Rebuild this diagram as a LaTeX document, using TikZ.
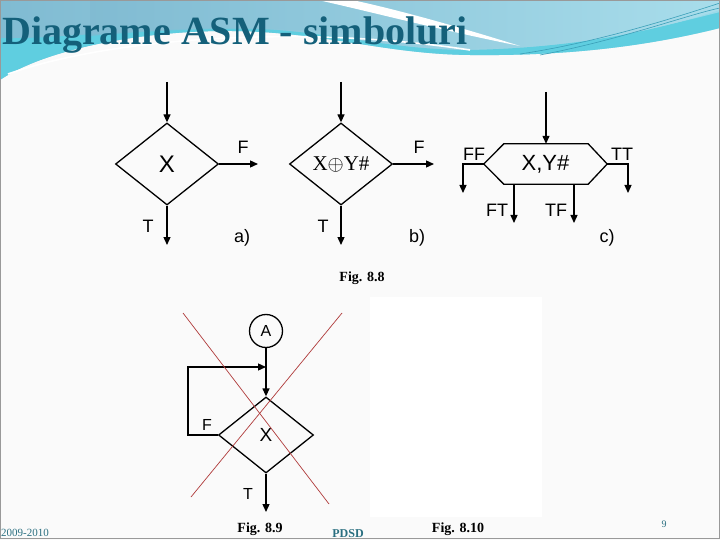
\documentclass[tikz,border=0pt]{standalone}
\usepackage{fontspec}
\setmainfont{Liberation Serif}
\newfontfamily\arialfont{Liberation Sans}
\usetikzlibrary{arrows.meta,shapes.geometric,calc}
\definecolor{SlideBack}{HTML}{FAFAFA}
\definecolor{BandSteel}{HTML}{80BBD2}
\definecolor{BandSky}{HTML}{A8DDEB}
\definecolor{BandCyan}{HTML}{5FCEE0}
\definecolor{BandLine}{HTML}{3A9FB8}
\definecolor{TitleTeal}{HTML}{14607A}
\definecolor{FootTeal}{HTML}{2A6F80}
\definecolor{CrossRed}{HTML}{B03A3A}

\begin{document}
\begin{tikzpicture}[x=1pt,y=-1pt,
  flow/.style={-{Triangle[length=8pt,width=7pt]},line width=1.3pt},
  decbox/.style={diamond,draw,line width=1.3pt,inner sep=0pt,
        minimum width=103pt,minimum height=82pt,
        font=\arialfont\fontsize{24}{24}\selectfont},
  lbl/.style={anchor=base,inner sep=0pt,font=\arialfont\fontsize{18}{18}\selectfont},
  figcap/.style={anchor=base,inner sep=0pt,font=\bfseries\fontsize{14}{14}\selectfont},
  foot/.style={anchor=base,inner sep=0pt,text=FootTeal}]
  \useasboundingbox (0,0) rectangle (720,540);
  % slide background and header band
  \fill[SlideBack] (0,0) rectangle (720,540);
  \fill[white] (370,297) rectangle (542,517);
  \shade[left color=BandSteel,right color=BandSky]
    (0,0) -- (720,0) -- (720,28) .. controls (640,48) and (560,56) .. (470,55)
    .. controls (380,54) and (320,30) .. (220,31)
    .. controls (130,32) and (40,52) .. (0,80) -- cycle;
  \fill[BandCyan] (0,80) .. controls (40,52) and (130,32) .. (220,31)
    .. controls (320,30) and (380,54) .. (470,55)
    .. controls (560,56) and (640,48) .. (720,28) -- (720,10)
    .. controls (640,36) and (560,48) .. (470,50)
    .. controls (380,50) and (320,27) .. (220,28)
    .. controls (120,30) and (40,40) .. (0,38) -- cycle;
  \shade[left color=BandSteel,right color=BandSky,opacity=0.8]
    (90,36) .. controls (200,26) and (320,24) .. (470,48)
    .. controls (560,50) and (650,30) .. (720,12) -- (720,0) -- (90,0) -- cycle;
  \draw[white,line width=1.6pt] (8,74) .. controls (110,38) and (300,24) .. (470,50);
  \fill[white] (318,0) .. controls (380,14) and (440,30) .. (520,46)
    .. controls (450,24) and (390,8) .. (352,0) -- cycle;
  \draw[BandLine,line width=0.6pt] (520,54) .. controls (600,42) and (680,16) .. (720,3);
  \draw[BandLine,line width=0.6pt] (540,55) .. controls (620,40) and (690,14) .. (720,8);
  \draw[BandLine!80!black,line width=1.4pt] (0,0.7) -- (720,0.7);
  \draw[gray!80,line width=0.8pt] (0.4,0.4) rectangle (719.6,538.6);
  \node[anchor=base west,inner sep=0pt,text=TitleTeal,
        font=\bfseries\fontsize{40}{40}\selectfont] (title) at (2,45)
        {Diagrame ASM - simboluri};

  % a) decision box
  \node[decbox] (da) at (167,164) {X};
  \coordinate (ina) at (167,82);
  \coordinate (fa) at (258,164);
  \coordinate (ta) at (167,245);
  \draw[flow] (ina) -- (da.north);
  \draw[flow] (da.east) -- (fa);
  \draw[flow] (da.south) -- (ta);
  \node[lbl] (fla) at (243,154) {F};
  \node[lbl] (tla) at (148,233) {T};
  \node[lbl] (capa) at (242,243) {a)};

  % b) decision box with expression
  \node[decbox,font=\fontsize{21}{21}\selectfont] (db) at (341,164) {X$\oplus$Y\#};
  \coordinate (inb) at (341,82);
  \coordinate (fb) at (434,164);
  \coordinate (tb) at (341,245);
  \draw[flow] (inb) -- (db.north);
  \draw[flow] (db.east) -- (fb);
  \draw[flow] (db.south) -- (tb);
  \node[lbl] (flb) at (419,154) {F};
  \node[lbl] (tlb) at (323,233) {T};
  \node[lbl] (capb) at (417,243) {b)};

  % c) multiway decision box
  \node[minimum width=123pt,minimum height=40pt,inner sep=0pt,
        font=\arialfont\fontsize{22}{22}\selectfont] (xy) at (545.5,164) {X,Y\#};
  \draw[line width=1.3pt] (xy.west) -- ([xshift=20pt]xy.north west)
    -- ([xshift=-19pt]xy.north east) -- (xy.east)
    -- ([xshift=-19pt]xy.south east) -- ([xshift=20pt]xy.south west) -- cycle;
  \coordinate (inc) at (546,92);
  \coordinate (ffend) at (463,193);
  \coordinate (ttend) at (628,193);
  \coordinate (ftend) at (514,223);
  \coordinate (tfend) at (574,223);
  \draw[flow] (inc) -- (inc |- xy.north);
  \draw[flow] (xy.west) -| (ffend);
  \draw[flow] (xy.east) -| (ttend);
  \draw[flow] (ftend |- xy.south) -- (ftend);
  \draw[flow] (tfend |- xy.south) -- (tfend);
  \node[lbl] (ffl) at (474,161) {FF};
  \node[lbl] (ttl) at (622,161) {TT};
  \node[lbl] (ftl) at (497,217) {FT};
  \node[lbl] (tfl) at (556,217) {TF};
  \node[lbl] (capc) at (607,242) {c)};
  \node[figcap] (fig88) at (362,281) {Fig. 8.8};

  % Fig. 8.9: wrong loop
  \node[circle,draw,line width=1.3pt,minimum size=33pt,inner sep=0pt,
        font=\arialfont\fontsize{16}{16}\selectfont] (ca) at (266,331) {A};
  \node[decbox,minimum width=95pt,minimum height=76pt,
        font=\arialfont\fontsize{19}{19}\selectfont] (dx) at (266,435) {X};
  \coordinate (loopin) at (266,367);
  \coordinate (tx) at (266,512);
  \draw[flow] (ca.south) -- (dx.north);
  \draw[flow] (dx.west) -- ++(-30,0) |- (loopin);
  \draw[flow] (dx.south) -- (tx);
  \node[lbl,font=\arialfont\fontsize{16}{16}\selectfont] (flx) at (207,430) {F};
  \node[lbl,font=\arialfont\fontsize{16}{16}\selectfont] (tlx) at (248,499) {T};
  \draw[CrossRed,line width=0.7pt] (183,313) -- (329,504);
  \draw[CrossRed,line width=0.7pt] (342,313) -- (191,497);
  \node[figcap] (fig89) at (260,532) {Fig. 8.9};
  \node[figcap] (fig810) at (458,532) {Fig. 8.10};

  % footer
  \node[foot,anchor=base west,font=\fontsize{11}{11}\selectfont] (years) at (1,536) {2009-2010};
  \node[foot,font=\bfseries\fontsize{12}{12}\selectfont] (pdsd) at (348,537) {PDSD};
  \node[foot,font=\fontsize{10}{10}\selectfont] (pnum) at (664,527) {9};
\end{tikzpicture}
\end{document}
